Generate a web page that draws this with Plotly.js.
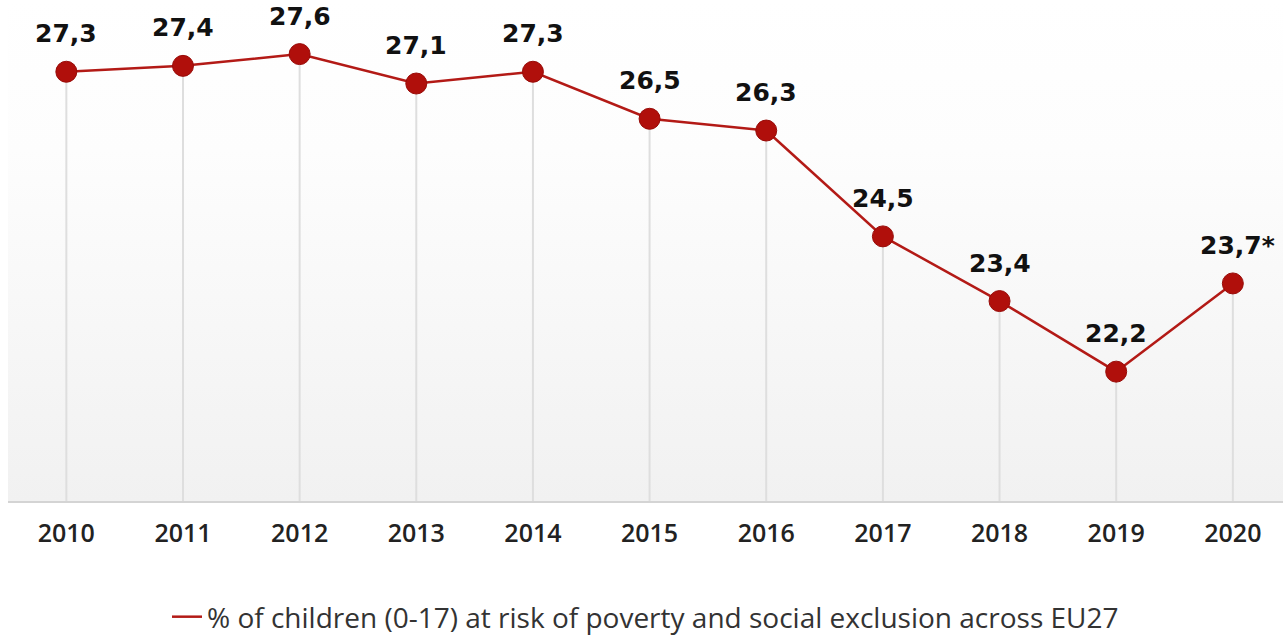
<!DOCTYPE html>
<html>
<head>
<meta charset="utf-8">
<script src="https://cdn.plot.ly/plotly-3.0.1.min.js"></script>
<style>
  html, body { margin: 0; padding: 0; background: #ffffff; }
  #chart { width: 1283px; height: 635px; }
</style>
</head>
<body>
<div id="chart"></div>
<script>
const years = [2010, 2011, 2012, 2013, 2014, 2015, 2016, 2017, 2018, 2019, 2020];
const values = [27.3, 27.4, 27.6, 27.1, 27.3, 26.5, 26.3, 24.5, 23.4, 22.2, 23.7];
const valueLabels = ['27,3', '27,4', '27,6', '27,1', '27,3', '26,5', '26,3', '24,5', '23,4', '22,2', '23,7*'];
const yearLabels = ['2010', '2011', '2012', '2013', '2014', '2015', '2016', '2017', '2018', '2019', '2020'];
const seriesName = '% of children (0-17) at risk of poverty and social exclusion across EU27';

const yMin = 20;
const yMax = 28.52;
const red = '#b31a16';

const dropDown = values.map(v => v - yMin);

const lineTrace = {
  x: years, y: values, type: 'scatter', mode: 'lines',
  name: seriesName,
  line: { color: red, width: 2.5 },
  error_y: {
    type: 'data', symmetric: false,
    array: values.map(() => 0), arrayminus: dropDown,
    color: '#dedede', thickness: 2, width: 0
  },
  hoverinfo: 'skip',
  showlegend: true
};

const markerTrace = {
  x: years, y: values, type: 'scatter', mode: 'markers',
  marker: { color: '#b00f0b', size: 21, line: { color: '#980b08', width: 1 } },
  showlegend: false, hoverinfo: 'skip'
};

const annotations = years.map((yr, i) => ({
  x: yr, y: values[i], xref: 'x', yref: 'y',
  text: valueLabels[i], showarrow: false,
  yshift: 38,
  xshift: i === years.length - 1 ? 5 : 0,
  font: { family: 'DejaVu Sans', size: 25, color: '#111111', weight: 'bold' }
}));

const gradSvg = '<svg xmlns="http://www.w3.org/2000/svg" width="100" height="100" preserveAspectRatio="none">' +
  '<defs><linearGradient id="g" x1="0" y1="0" x2="0" y2="1">' +
  '<stop offset="0" stop-color="#ffffff"/><stop offset="0.3" stop-color="#fdfdfd"/>' +
  '<stop offset="1" stop-color="#f1f1f1"/></linearGradient></defs>' +
  '<rect width="100" height="100" fill="url(#g)"/></svg>';

const layout = {
  width: 1283, height: 635,
  margin: { l: 8, r: 0, t: 0, b: 134, autoexpand: false },
  paper_bgcolor: '#ffffff',
  plot_bgcolor: 'rgba(0,0,0,0)',
  images: [{
    source: 'data:image/svg+xml;charset=utf-8,' + encodeURIComponent(gradSvg),
    xref: 'paper', yref: 'paper', x: 0, y: 1, sizex: 1, sizey: 1,
    xanchor: 'left', yanchor: 'top', sizing: 'stretch', layer: 'below'
  }],
  xaxis: {
    range: [2009.5, 2020.43],
    tickvals: years, ticktext: yearLabels,
    showgrid: false, zeroline: false,
    showline: true, linecolor: '#d4d4d4', linewidth: 2,
    ticks: '', ticklabelstandoff: 9,
    tickfont: { family: 'Open Sans', size: 25, color: '#222222', weight: 600 },
    fixedrange: true
  },
  yaxis: {
    range: [yMin, yMax], visible: false,
    showgrid: false, zeroline: false, fixedrange: true
  },
  showlegend: true,
  legend: {
    orientation: 'h', x: 0.5, xanchor: 'center', y: -0.2315, yanchor: 'middle',
    font: { family: 'Open Sans', size: 28, color: '#333333' },
    bgcolor: 'rgba(0,0,0,0)'
  },
  annotations: annotations
};

Plotly.newPlot('chart', [lineTrace, markerTrace], layout, { staticPlot: true, displayModeBar: false });
</script>
</body>
</html>
